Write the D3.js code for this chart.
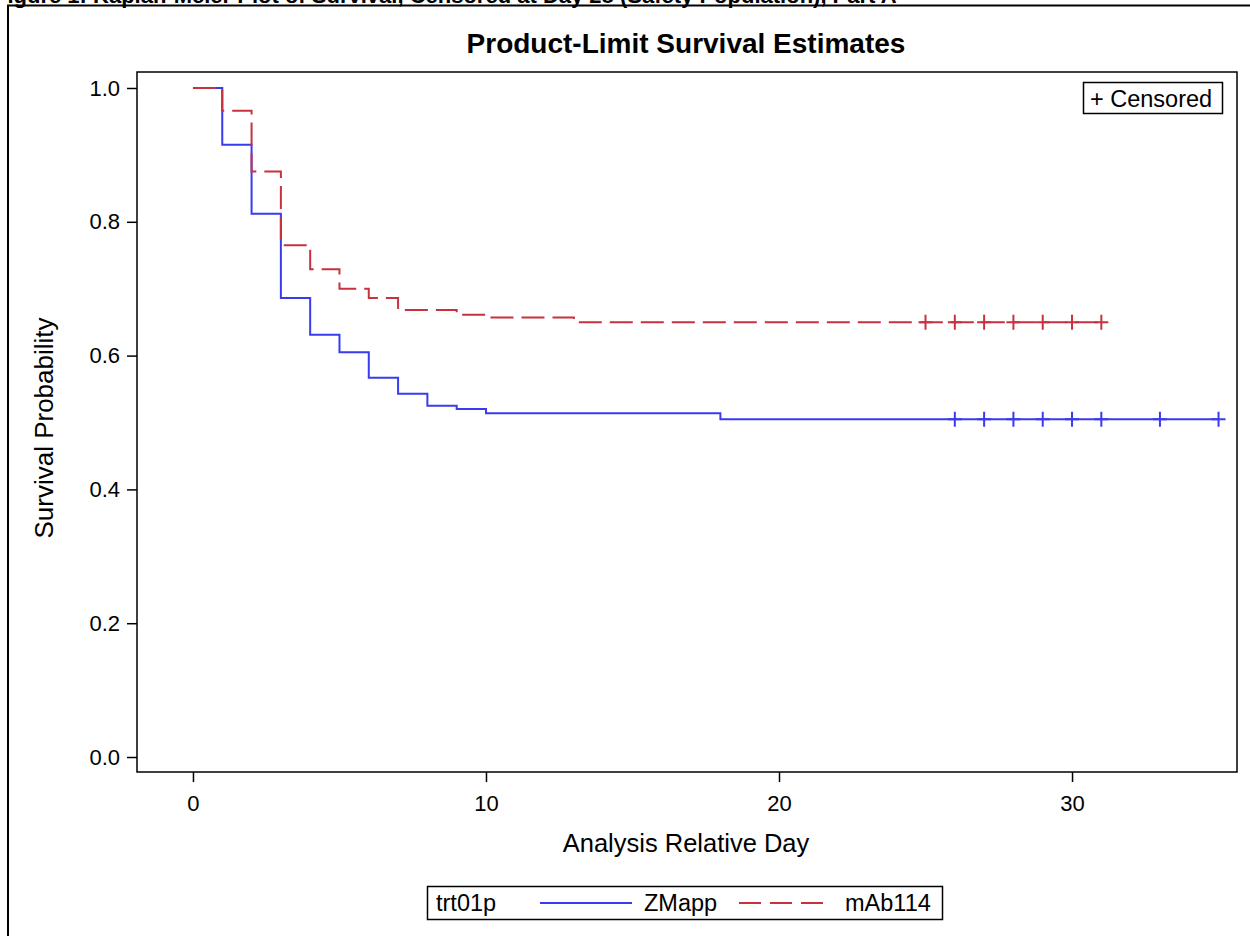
<!DOCTYPE html>
<html>
<head>
<meta charset="utf-8">
<script src="https://cdn.jsdelivr.net/npm/d3@7"></script>
<style>
  html, body { margin: 0; padding: 0; background: #fff; }
  svg { display: block; font-family: "Liberation Sans", Arial, sans-serif; }
</style>
</head>
<body>
<svg id="chart" width="1250" height="936"></svg>
<script>
// Kaplan-Meier step estimates by treatment arm: [day, survival] at each event time
const zmappSteps = [[0, 1.0], [1, 0.915], [2, 0.812], [3, 0.686], [4, 0.631], [5, 0.605],
  [6, 0.567], [7, 0.543], [8, 0.525], [9, 0.520], [10, 0.514], [18, 0.505]];
const zmappEnd = 35;
const zmappCensored = [26, 27, 28, 29, 30, 31, 33, 35];

const mab114Steps = [[0, 1.0], [1, 0.966], [2, 0.875], [3, 0.765], [4, 0.729], [5, 0.700],
  [6, 0.686], [7, 0.668], [9, 0.661], [10, 0.657], [13, 0.650]];
const mab114End = 31;
const mab114Censored = [25, 26, 27, 28, 29, 30, 31];

const xTicks = [0, 10, 20, 30];
const yTicks = [0.0, 0.2, 0.4, 0.6, 0.8, 1.0];

const groupName = "trt01p";
const arms = ["ZMapp", "mAb114"];

const svg = d3.select("#chart");

// figure heading (runs off the top of the page) and frame
svg.append("text")
  .attr("x", -6).attr("y", 2.5)
  .attr("font-size", 22).attr("font-weight", "bold")
  .text("Figure 1: Kaplan-Meier Plot of Survival, Censored at Day 28 (Safety Population), Part A");
svg.append("path")
  .attr("d", "M8,936V5.5H1250")
  .attr("fill", "none").attr("stroke", "#000").attr("stroke-width", 2);

const plot = { left: 137, right: 1237, top: 72, bottom: 772 };

const x = d3.scaleLinear().domain([-1.91, 35.63]).range([plot.left, plot.right]);
const y = d3.scaleLinear().domain([-0.0224, 1.0239]).range([plot.bottom, plot.top]);

svg.append("text")
  .attr("x", 686).attr("y", 53)
  .attr("text-anchor", "middle")
  .attr("font-size", 28).attr("font-weight", "bold")
  .text("Product-Limit Survival Estimates");

// axes
const xAxis = svg.append("g")
  .attr("transform", `translate(0,${plot.bottom})`)
  .call(d3.axisBottom(x).tickValues(xTicks).tickSize(10).tickPadding(13).tickFormat(d3.format("d")));
const yAxis = svg.append("g")
  .attr("transform", `translate(${plot.left},0)`)
  .call(d3.axisLeft(y).tickValues(yTicks).tickSize(10).tickPadding(7).tickFormat(d3.format(".1f")));
[xAxis, yAxis].forEach(g => {
  g.select(".domain").remove();
  g.selectAll("line").attr("stroke", "#000").attr("stroke-width", 1.5);
  g.selectAll("text").attr("font-size", 22).attr("fill", "#000")
    .attr("font-family", "Liberation Sans, Arial, sans-serif");
});

svg.append("rect")
  .attr("x", plot.left).attr("y", plot.top)
  .attr("width", plot.right - plot.left).attr("height", plot.bottom - plot.top)
  .attr("fill", "none").attr("stroke", "#000").attr("stroke-width", 1.5);

svg.append("text")
  .attr("x", 686).attr("y", 852)
  .attr("text-anchor", "middle").attr("font-size", 25.5)
  .text("Analysis Relative Day");
svg.append("text")
  .attr("transform", "translate(53,428) rotate(-90)")
  .attr("text-anchor", "middle").attr("font-size", 26)
  .text("Survival Probability");

// survival curves
const stepLine = d3.line().x(d => x(d[0])).y(d => y(d[1])).curve(d3.curveStepAfter);
const survAt = (steps, t) => {
  let s = steps[0][1];
  steps.forEach(d => { if (d[0] <= t) s = d[1]; });
  return s;
};

const series = [
  { steps: zmappSteps, end: zmappEnd, cens: zmappCensored, color: "#3a3aee", dash: null },
  { steps: mab114Steps, end: mab114End, cens: mab114Censored, color: "#c8323f", dash: "23,8" }
];

series.forEach(s => {
  const pts = s.steps.concat([[s.end, s.steps[s.steps.length - 1][1]]]);
  svg.append("path")
    .attr("d", stepLine(pts))
    .attr("fill", "none")
    .attr("stroke", s.color).attr("stroke-width", 2)
    .attr("stroke-dasharray", s.dash);
  svg.append("g").selectAll("path")
    .data(s.cens)
    .join("path")
    .attr("d", d => {
      const cx = x(d), cy = y(survAt(s.steps, d));
      return `M${cx - 7},${cy}H${cx + 7}M${cx},${cy - 7.5}V${cy + 7.5}`;
    })
    .attr("fill", "none")
    .attr("stroke", s.color).attr("stroke-width", 2);
});

// censoring key
const ck = svg.append("g");
ck.append("rect").attr("x", 1083.5).attr("y", 82.5).attr("width", 139).attr("height", 31)
  .attr("fill", "#fff").attr("stroke", "#000").attr("stroke-width", 1.5);
ck.append("text").attr("x", 1090).attr("y", 106.5).attr("font-size", 23.5).text("+ Censored");

// group legend
const lg = svg.append("g");
lg.append("rect").attr("x", 427.5).attr("y", 886.5).attr("width", 515).attr("height", 33)
  .attr("fill", "#fff").attr("stroke", "#000").attr("stroke-width", 1.5);
lg.append("text").attr("x", 436).attr("y", 911).attr("font-size", 23.5).text(groupName);
lg.append("line").attr("x1", 540).attr("x2", 632).attr("y1", 903).attr("y2", 903)
  .attr("stroke", series[0].color).attr("stroke-width", 2);
lg.append("text").attr("x", 644).attr("y", 911).attr("font-size", 23.5).text(arms[0]);
lg.append("line").attr("x1", 739).attr("x2", 826).attr("y1", 903).attr("y2", 903)
  .attr("stroke", series[1].color).attr("stroke-width", 2).attr("stroke-dasharray", "22,9");
lg.append("text").attr("x", 845).attr("y", 911).attr("font-size", 23.5).text(arms[1]);
</script>
</body>
</html>
